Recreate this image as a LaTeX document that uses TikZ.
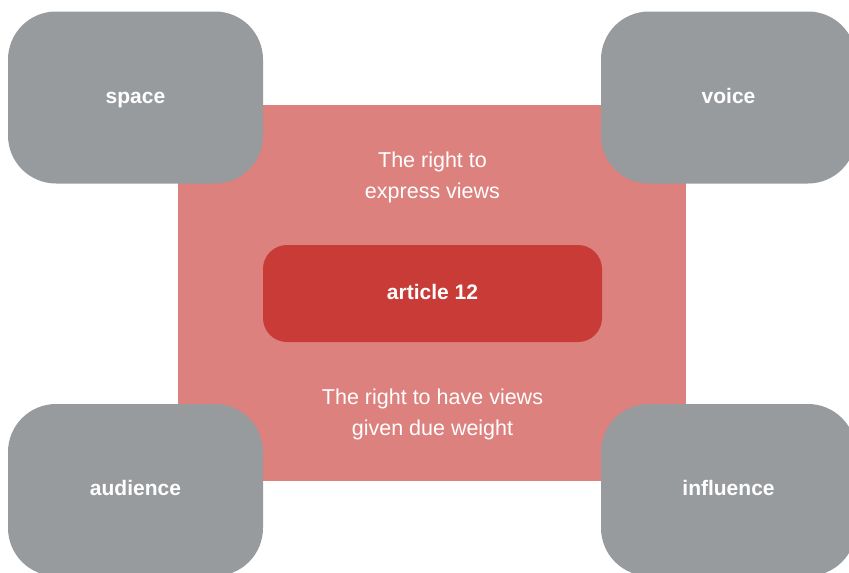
\documentclass[tikz,border=0pt]{standalone}
\usepackage{fontspec}
\setmainfont{Liberation Sans}
\usepackage{xcolor}
\usepackage{tikz}
\usetikzlibrary{positioning}
\definecolor{slate}{HTML}{989B9E}
\definecolor{rose}{HTML}{DC817E}
\definecolor{brick}{HTML}{C83B36}
\tikzset{
  corner/.style={rectangle, fill=slate, text=white, rounded corners=48pt, minimum width=255pt, minimum height=172pt, font=\fontsize{21}{24}\selectfont\bfseries, text height=1.1em, text depth=0pt, inner sep=0pt},
  core/.style={rectangle, fill=brick, text=white, rounded corners=24pt, minimum width=339pt, minimum height=97pt, font=\fontsize{21}{24}\selectfont\bfseries, text height=1.1em, text depth=0pt, inner sep=0pt},
  caption/.style={text=white, align=center, font=\fontsize{21.5}{31}\selectfont, inner sep=0pt},
}

\begin{document}
\begin{tikzpicture}[x=1pt, y=-1pt]
  \useasboundingbox (0,0) rectangle (849,573);
  \clip (0,0) rectangle (849,573);
  \fill[rose] (178,105) rectangle (686,481);
  \node[core] (art) at (432.5,293.5) {article 12};
  \node[caption, above=42pt of art] (express) {The right to\\express views};
  \node[caption, below=47pt of art] (weight) {The right to have views\\given due weight};
  \node[corner] (space) at (135.5,97.5) {space};
  \node[corner] (voice) at (728.5,97.5) {voice};
  \node[corner] (audience) at (135.5,490) {audience};
  \node[corner] (influence) at (728.5,490) {influence};
\end{tikzpicture}
\end{document}
